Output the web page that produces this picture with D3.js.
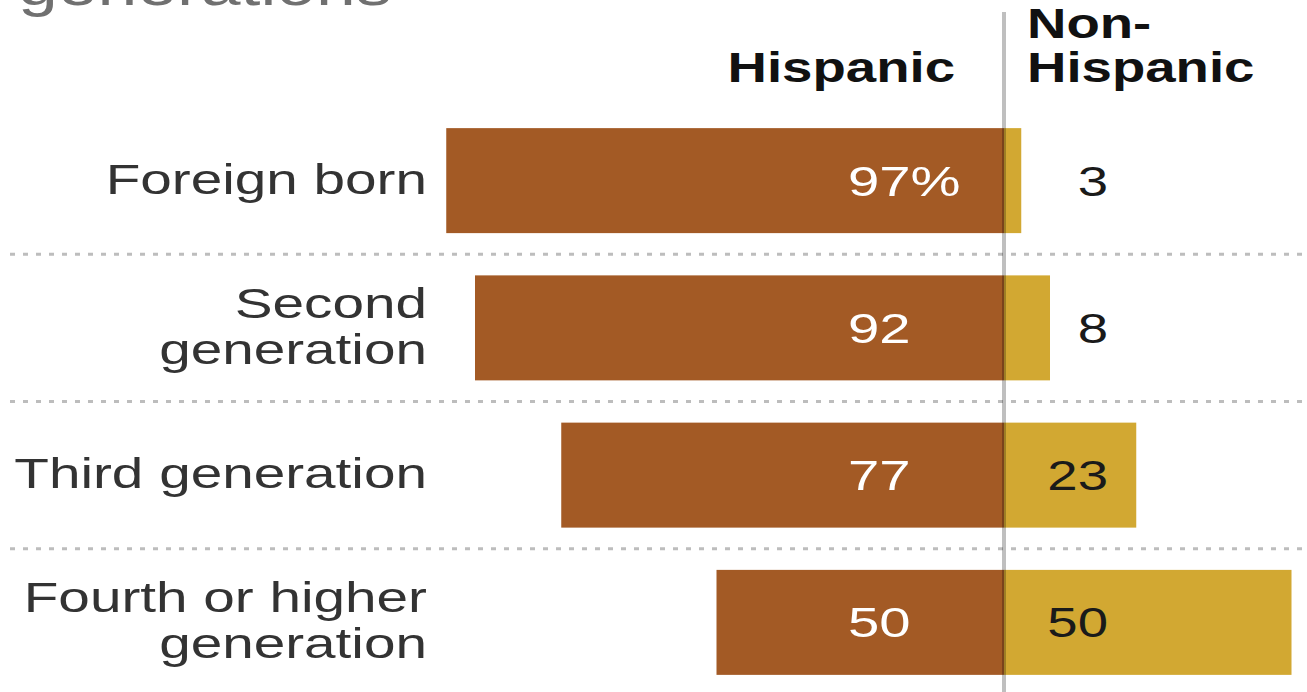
<!DOCTYPE html>
<html>
<head>
<meta charset="utf-8">
<script src="https://cdn.jsdelivr.net/npm/d3@7"></script>
<style>
  body { margin: 0; background: #fff; }
  text { font-family: "Liberation Sans", Arial, sans-serif; }
</style>
</head>
<body>
<svg id="chart" width="1307" height="692"></svg>
<script>
var width = 1307, height = 692

var categories = ["Foreign born", "Second generation", "Third generation", "Fourth or higher generation"]
var labelLines = [["Foreign born"], ["Second", "generation"], ["Third generation"], ["Fourth or higher", "generation"]]
var hispanic = [97, 92, 77, 50]
var nonHispanic = [3, 8, 23, 50]
var hispLabels = ["97%", "92", "77", "50"]
var nonHispLabels = ["3", "8", "23", "50"]

var svg = d3.select('#chart')
var stretch = 1.3  // the picture is wider than the font, stretch text sideways

var x = d3.scaleLinear().domain([-100, 100]).range([429, 1579])
var y = d3.scaleBand().domain(categories).range([107, 696])
  .paddingInner(0.287).paddingOuter(0.1435)

function put(sel, px, py, sx) {
  return sel.attr('transform', 'translate(' + px + ',' + py + ') scale(' + (sx || stretch) + ',1)')
}

// cut-off title at the very top
put(svg.append('text'), 18, 5)
  .text('generations')
  .style('font-size', '55px')
  .attr('fill', '#707070')

// dotted row separators
svg.append('g').selectAll('line')
  .data(categories.slice(1))
  .enter().append('line')
  .attr('x1', 10)
  .attr('x2', width)
  .attr('y1', d => y(d) - y.step() * y.paddingInner() / 2)
  .attr('y2', d => y(d) - y.step() * y.paddingInner() / 2)
  .attr('stroke', '#bdbdbd')
  .attr('stroke-width', 3)
  .attr('stroke-dasharray', '5,8')

// bars
var rows = categories.map((c, i) => ({cat: c, h: hispanic[i], n: nonHispanic[i], hl: hispLabels[i], nl: nonHispLabels[i], lines: labelLines[i]}))

svg.append('g').selectAll('rect')
  .data(rows)
  .enter().append('rect')
  .attr('x', d => x(-d.h))
  .attr('y', d => y(d.cat))
  .attr('width', d => x(0) - x(-d.h))
  .attr('height', y.bandwidth())
  .attr('fill', '#a35a25')

svg.append('g').selectAll('rect')
  .data(rows)
  .enter().append('rect')
  .attr('x', x(0))
  .attr('y', d => y(d.cat))
  .attr('width', d => x(d.n) - x(0))
  .attr('height', y.bandwidth())
  .attr('fill', '#d2a832')

// zero line over the bars
svg.append('line')
  .attr('x1', x(0)).attr('x2', x(0))
  .attr('y1', 12).attr('y2', height)
  .attr('stroke', '#000')
  .attr('stroke-opacity', 0.25)
  .attr('stroke-width', 4)

// value labels
svg.append('g').selectAll('text')
  .data(rows)
  .enter().append('text')
  .each(function(d) { put(d3.select(this), x(0) - 156, y(d.cat) + y.bandwidth() / 2 + 15, 1.34) })
  .text(d => d.hl)
  .style('font-size', '42px')
  .attr('fill', '#fff')

svg.append('g').selectAll('text')
  .data(rows)
  .enter().append('text')
  .each(function(d) { put(d3.select(this), x(0) + 104, y(d.cat) + y.bandwidth() / 2 + 15) })
  .text(d => d.nl)
  .attr('text-anchor', 'end')
  .style('font-size', '42px')
  .attr('fill', '#1a1a1a')

// category labels
rows.forEach(d => {
  var mid = y(d.cat) + y.bandwidth() / 2
  var n = d.lines.length
  d.lines.forEach((t, j) => {
    put(svg.append('text'), 427, mid + 13 + (j - (n - 1) / 2) * 46, 1.35)
      .text(t)
      .attr('text-anchor', 'end')
      .style('font-size', '42px')
      .attr('fill', '#333')
  })
})

// column headers
put(svg.append('text'), x(0) - 49, 82)
  .text('Hispanic')
  .attr('text-anchor', 'end')
  .style('font-size', '42px')
  .style('font-weight', 'bold')
  .attr('fill', '#111')

;[['Non-', 38], ['Hispanic', 82]].forEach(p => {
  put(svg.append('text'), x(0) + 23, p[1])
    .text(p[0])
    .style('font-size', '42px')
    .style('font-weight', 'bold')
    .attr('fill', '#111')
})
</script>
</body>
</html>
